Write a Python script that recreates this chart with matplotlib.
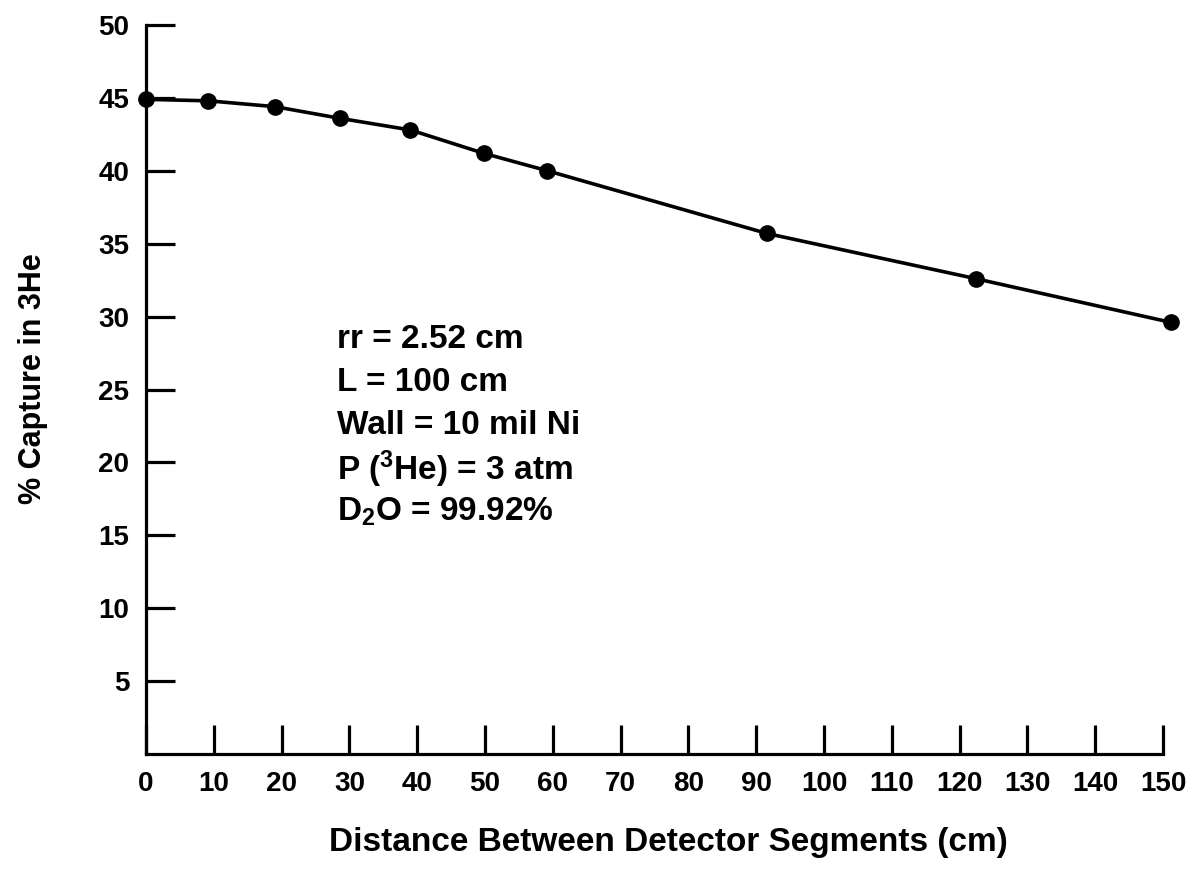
import matplotlib
matplotlib.use("Agg")
import matplotlib.pyplot as plt

# Data
distance_cm = [0, 9.2, 19.0, 28.6, 39.0, 49.8, 59.2, 91.6, 122.4, 151.2]
capture_pct = [44.9, 44.8, 44.4, 43.6, 42.8, 41.2, 40.0, 35.7, 32.6, 29.6]

x_ticks = [0, 10, 20, 30, 40, 50, 60, 70, 80, 90, 100, 110, 120, 130, 140, 150]
y_ticks = [5, 10, 15, 20, 25, 30, 35, 40, 45, 50]

info_lines = [
    "rr = 2.52 cm",
    "L = 100 cm",
    "Wall = 10 mil Ni",
    r"P ($^3$He) = 3 atm",
    r"D$_2$O = 99.92%",
]

plt.rcParams['font.family'] = ['Liberation Sans', 'DejaVu Sans']
plt.rcParams['font.weight'] = 'bold'
plt.rcParams['mathtext.fontset'] = 'custom'
plt.rcParams['mathtext.rm'] = 'Liberation Sans:bold'
plt.rcParams['mathtext.it'] = 'Liberation Sans:bold'
plt.rcParams['mathtext.bf'] = 'Liberation Sans:bold'
plt.rcParams['mathtext.default'] = 'rm'

fig = plt.figure(figsize=(11.94, 8.71), dpi=100)
ax = fig.add_axes([0.1223, 0.1343, 0.8518, 0.837])

ax.plot(distance_cm, capture_pct, color='black', linewidth=2.6,
        marker='o', markersize=11, clip_on=False, zorder=5)

ax.set_xlim(0, 150)
ax.set_ylim(0, 50)
ax.set_xticks(x_ticks)
ax.set_yticks(y_ticks)
ax.set_xticklabels([str(v) for v in x_ticks])
ax.set_yticklabels([str(v) for v in y_ticks])

for s in ['top', 'right']:
    ax.spines[s].set_visible(False)
for s in ['left', 'bottom']:
    ax.spines[s].set_linewidth(2.3)

ax.tick_params(axis='both', direction='in', length=21, width=2.3,
               labelsize=20, colors='black')
ax.tick_params(axis='x', pad=12)
ax.tick_params(axis='y', pad=12)
for lbl in ax.get_xticklabels() + ax.get_yticklabels():
    lbl.set_fontweight('bold')

ax.set_xlabel("Distance Between Detector Segments (cm)", fontsize=24,
              fontweight='bold', labelpad=22)
ax.xaxis.label.set_x(0.514)
ax.set_ylabel("% Capture in 3He", fontsize=22, fontweight='bold', labelpad=36)
ax.yaxis.label.set_y(0.515)

y0 = 28.4
for i, line in enumerate(info_lines):
    ax.text(28.2, y0 - i * 2.95, line, fontsize=24, fontweight='bold',
            ha='left', va='center')

fig.savefig("out.png", dpi=100)
